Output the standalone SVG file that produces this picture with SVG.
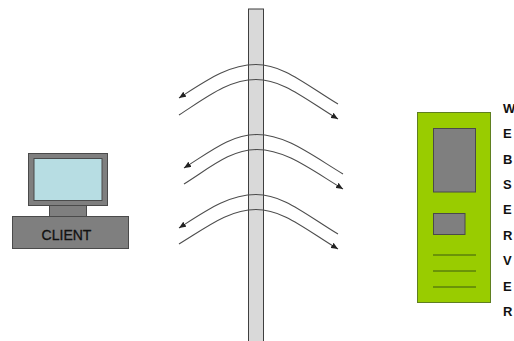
<svg xmlns="http://www.w3.org/2000/svg" width="514" height="341" viewBox="0 0 514 341">
<style>
.f{stroke:#4a4a4a;stroke-width:1}
.g{fill:#7f7f7f}
.c{fill:none;stroke:#4d4d4d;stroke-width:1.1}
.l{stroke:#3d5a10;stroke-width:1;fill:none}
.t{font-family:"Liberation Sans",Arial,sans-serif;fill:#111}
.n{font-size:14px;stroke:#111;stroke-width:.3}
.v{font-size:13px;font-weight:bold}
</style>
<defs>
<marker id="a" markerUnits="userSpaceOnUse" markerWidth="8" markerHeight="6" refX="7" refY="3" orient="auto"><path d="M0 0L7 3L0 6z" fill="#222"/></marker>
</defs>
<rect width="514" height="341" fill="#fff"/>
<g id="wall"><rect x="248.500" y="9" width="15" height="333" fill="#d9d9d9" stroke="#3f3f3f"/></g>
<g id="client">
<rect class="f g" x="49.500" y="205.500" width="37" height="11"/>
<rect class="f g" x="28.500" y="153.500" width="79" height="52"/>
<rect x="34" y="158.500" width="68" height="42" fill="#b7dde3" stroke="#4a4a4a"/>
<rect class="f g" x="12.500" y="216.500" width="116" height="32"/>
<text class="t n" x="66.500" y="239.500" text-anchor="middle">CLIENT</text>
</g>
<g id="server">
<rect x="417.500" y="112.500" width="73" height="190" fill="#99cc00" stroke="#5f7f20"/>
<rect class="f g" x="433.500" y="128.500" width="42" height="63.500"/>
<rect class="f g" x="433.500" y="213.500" width="31.500" height="21"/>
<path class="l" d="M433 255H476M433 271H476M433 287H476"/>
<text class="t v" x="503" y="113">W</text>
<text class="t v" x="503" y="138">E</text>
<text class="t v" x="503" y="164">B</text>
<text class="t v" x="503" y="189">S</text>
<text class="t v" x="503" y="214">E</text>
<text class="t v" x="503" y="240">R</text>
<text class="t v" x="503" y="265">V</text>
<text class="t v" x="503" y="291">E</text>
<text class="t v" x="503" y="316">R</text>
</g>
<g id="connectors">
<path class="c" marker-end="url(#a)" d="M338 104C305 84 283 64.500 256 64.500C229 64.500 207 80 179 98"/>
<path class="c" marker-end="url(#a)" d="M179 115C207 97 229 79.500 256 79.500C283 79.500 305 99 338 119"/>
<path class="c" marker-end="url(#a)" d="M343 174C310 154 285 134.500 257 134.500C231 134.500 211 151 184 168"/>
<path class="c" marker-end="url(#a)" d="M184 184C211 167 231 149.500 257 149.500C285 149.500 310 169 343 189"/>
<path class="c" marker-end="url(#a)" d="M338 234C305 214 283 194.500 256 194.500C229 194.500 207 210 179 228"/>
<path class="c" marker-end="url(#a)" d="M179 244C207 227 229 209.500 256 209.500C283 209.500 305 229 338 249"/>
</g>
</svg>
